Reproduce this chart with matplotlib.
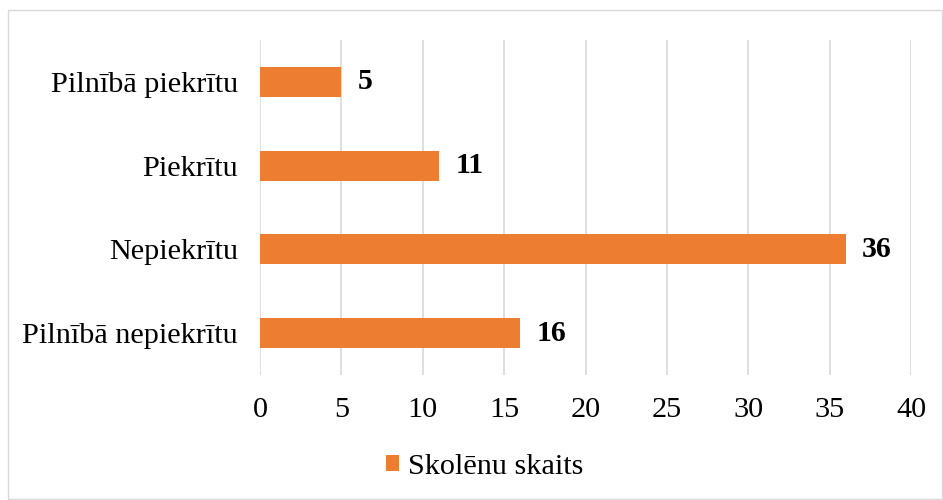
import matplotlib
matplotlib.use("Agg")
import matplotlib.pyplot as plt
from matplotlib.patches import Rectangle, Patch

categories = ["Pilnībā nepiekrītu", "Nepiekrītu", "Piekrītu", "Pilnībā piekrītu"]
values = [16, 36, 11, 5]
series_name = "Skolēnu skaits"
xticks = [0, 5, 10, 15, 20, 25, 30, 35, 40]

bar_color = "#ED7D31"
grid_color = "#D9D9D9"

plt.rcParams["font.family"] = ["Liberation Serif", "DejaVu Serif"]

fig = plt.figure(figsize=(9.43, 5.0), dpi=100)
ax = fig.add_axes([260 / 943, 1 - 375 / 500, 651 / 943, 335 / 500])

ypos = range(len(categories))
bars = ax.barh(ypos, values, height=0.36, color=bar_color, zorder=3)

for b, v in zip(bars, values):
    ax.text(b.get_width() + 1.0, b.get_y() + b.get_height() / 2, str(v),
            va="center", ha="left", fontsize=21.5, fontweight="bold", color="black")

ax.set_xlim(0, 40)
ax.set_ylim(-0.5, len(categories) - 0.5)
ax.set_xticks(xticks)
ax.set_xticklabels([str(t) for t in xticks])
ax.set_yticks(list(ypos))
ax.set_yticklabels(categories)
ax.tick_params(axis="both", length=0, labelsize=21.8, colors="black")
ax.tick_params(axis="y", pad=16)
ax.tick_params(axis="x", pad=16)
ax.xaxis.grid(True, color=grid_color, linewidth=1.2, zorder=0)
for s in ax.spines.values():
    s.set_visible(False)

handle = Patch(facecolor=bar_color, edgecolor="none")
fig.legend([handle], [series_name], loc="center", bbox_to_anchor=(485 / 943, 1 - 467 / 500),
           frameon=False, fontsize=21.8, handlelength=0.42, handleheight=0.42,
           handletextpad=0.3)

fig.patches.append(Rectangle((8 / 943, 1 / 500), 934 / 943, 489 / 500, transform=fig.transFigure,
                             fill=False, edgecolor="#D9D9D9", linewidth=1.0))

fig.savefig("out.png", dpi=100, facecolor="white")
